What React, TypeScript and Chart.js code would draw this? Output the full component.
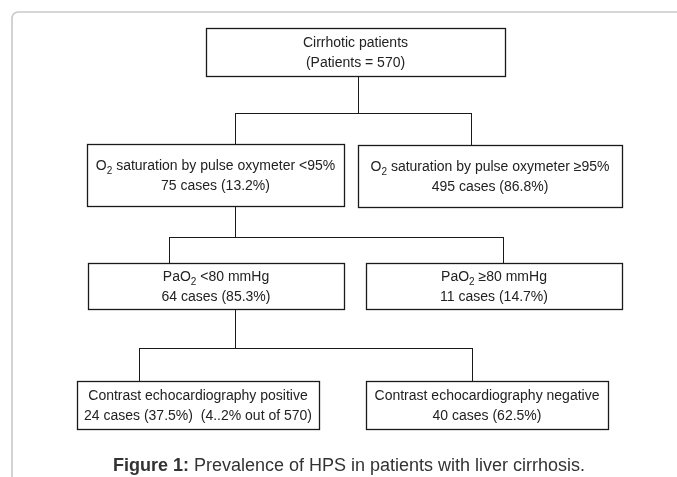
import React, { useEffect, useRef } from "react";
import { Chart, registerables } from "chart.js";

Chart.register(...registerables);

// ---- data ----
const nodeTitles = [
  "Cirrhotic patients",
  "O_2 saturation by pulse oxymeter <95%",
  "O_2 saturation by pulse oxymeter ≥95%",
  "PaO_2 <80 mmHg",
  "PaO_2 ≥80 mmHg",
  "Contrast echocardiography positive",
  "Contrast echocardiography negative",
];
const nodeDetails = [
  "(Patients = 570)",
  "75 cases (13.2%)",
  "495 cases (86.8%)",
  "64 cases (85.3%)",
  "11 cases (14.7%)",
  "24 cases (37.5%)  (4..2% out of 570)",
  "40 cases (62.5%)",
];
const nodeParents = [-1, 0, 0, 1, 1, 3, 3];
const captionBold = "Figure 1:";
const captionText = " Prevalence of HPS in patients with liver cirrhosis.";

// ---- layout (data units of the x/y scales) ----
const layout = {
  boxes: [
    [206, 505, 28, 76],
    [87, 344, 144, 206],
    [358, 622, 145, 207],
    [88, 344, 263, 309],
    [366, 622, 263, 309],
    [77, 319, 381, 429],
    [366, 608, 381, 429],
  ],
  groups: [
    { parent: 0, trunkX: 358, barY: 113, drops: [235, 471] },
    { parent: 1, trunkX: 235, barY: 237, drops: [169, 503] },
    { parent: 3, trunkX: 235, barY: 348, drops: [139, 472] },
  ],
};

const FONT = "Arial, 'Liberation Sans', sans-serif";
const BOX_FONT = 14;
const CAPTION_FONT = 18;

function drawRich(ctx: CanvasRenderingContext2D, text: string, cx: number, cy: number, size: number) {
  const parts: { t: string; sub: boolean }[] = [];
  const re = /_(\d)/g;
  let last = 0;
  let m: RegExpExecArray | null;
  while ((m = re.exec(text))) {
    if (m.index > last) parts.push({ t: text.slice(last, m.index), sub: false });
    parts.push({ t: m[1], sub: true });
    last = m.index + m[0].length;
  }
  if (last < text.length) parts.push({ t: text.slice(last), sub: false });
  const subSize = Math.round(size * 0.72);
  let total = 0;
  const widths = parts.map((p) => {
    ctx.font = `${p.sub ? subSize : size}px ${FONT}`;
    const w = ctx.measureText(p.t).width;
    total += w;
    return w;
  });
  let x = cx - total / 2;
  ctx.textAlign = "left";
  ctx.textBaseline = "middle";
  parts.forEach((p, i) => {
    ctx.font = `${p.sub ? subSize : size}px ${FONT}`;
    ctx.fillText(p.t, x, p.sub ? cy + size * 0.35 : cy);
    x += widths[i];
  });
}

const flowPlugin = {
  id: "flow",
  afterDraw(chart: any) {
    const ctx: CanvasRenderingContext2D = chart.ctx;
    const xs = chart.scales.x;
    const ys = chart.scales.y;
    const X = (v: number) => xs.getPixelForValue(v);
    const Y = (v: number) => ys.getPixelForValue(v);
    ctx.save();

    // outer frame
    ctx.strokeStyle = "#c9c9c9";
    ctx.lineWidth = 1.6;
    ctx.beginPath();
    const fx = X(12), fy = Y(12), r = 7;
    ctx.moveTo(X(690), fy);
    ctx.lineTo(fx + r, fy);
    ctx.quadraticCurveTo(fx, fy, fx, fy + r);
    ctx.lineTo(fx, Y(490));
    ctx.stroke();

    // connectors
    ctx.strokeStyle = "#1a1a1a";
    ctx.lineWidth = 1;
    layout.groups.forEach((g) => {
      const pb = layout.boxes[g.parent];
      ctx.beginPath();
      ctx.moveTo(X(g.trunkX) + 0.5, Y(pb[3]));
      ctx.lineTo(X(g.trunkX) + 0.5, Y(g.barY) + 0.5);
      ctx.stroke();
      const minX = Math.min(...g.drops);
      const maxX = Math.max(...g.drops);
      ctx.beginPath();
      ctx.moveTo(X(minX), Y(g.barY) + 0.5);
      ctx.lineTo(X(maxX) + 1, Y(g.barY) + 0.5);
      ctx.stroke();
      const children = nodeParents
        .map((p, i) => (p === g.parent ? i : -1))
        .filter((i) => i >= 0);
      g.drops.forEach((dx, k) => {
        const cb = layout.boxes[children[k]];
        ctx.beginPath();
        ctx.moveTo(X(dx) + 0.5, Y(g.barY));
        ctx.lineTo(X(dx) + 0.5, Y(cb[2]));
        ctx.stroke();
      });
    });

    // boxes
    nodeTitles.forEach((title, i) => {
      const [x1, x2, y1, y2] = layout.boxes[i];
      ctx.strokeStyle = "#1a1a1a";
      ctx.lineWidth = 1.3;
      ctx.strokeRect(X(x1) + 0.5, Y(y1) + 0.5, X(x2) - X(x1), Y(y2) - Y(y1));
      const cx = (X(x1) + X(x2)) / 2;
      const cy = (Y(y1) + Y(y2)) / 2;
      ctx.fillStyle = "#222";
      drawRich(ctx, title, cx, cy - 9, BOX_FONT);
      drawRich(ctx, nodeDetails[i], cx, cy + 11, BOX_FONT);
    });

    // caption
    ctx.fillStyle = "#333";
    ctx.textBaseline = "middle";
    ctx.textAlign = "left";
    ctx.font = `bold ${CAPTION_FONT}px ${FONT}`;
    const wb = ctx.measureText(captionBold).width;
    ctx.font = `${CAPTION_FONT}px ${FONT}`;
    const wt = ctx.measureText(captionText).width;
    const cx0 = X(349) - (wb + wt) / 2;
    const cy0 = Y(466);
    ctx.font = `bold ${CAPTION_FONT}px ${FONT}`;
    ctx.fillText(captionBold, cx0, cy0);
    ctx.font = `${CAPTION_FONT}px ${FONT}`;
    ctx.fillText(captionText, cx0 + wb, cy0);
    ctx.restore();
  },
};

export default function App() {
  const ref = useRef<HTMLCanvasElement | null>(null);
  useEffect(() => {
    if (!ref.current) return;
    const chart = new Chart(ref.current, {
      type: "scatter",
      data: {
        datasets: [
          {
            data: layout.boxes.map((b) => ({ x: (b[0] + b[1]) / 2, y: (b[2] + b[3]) / 2 })),
            pointRadius: 0,
            showLine: false,
          },
        ],
      },
      options: {
        animation: false,
        responsive: false,
        events: [],
        layout: { padding: 0 },
        plugins: { legend: { display: false }, tooltip: { enabled: false }, title: { display: false } },
        scales: {
          x: { type: "linear", min: 0, max: 677, display: false },
          y: { type: "linear", min: 0, max: 477, reverse: true, display: false },
        },
      },
      plugins: [flowPlugin],
    });
    return () => chart.destroy();
  }, []);
  return (
    <div style={{ position: "absolute", left: 0, top: 0, width: 677, height: 477, background: "#fff" }}>
      <canvas ref={ref} width={677} height={477} style={{ width: 677, height: 477 }} />
    </div>
  );
}
